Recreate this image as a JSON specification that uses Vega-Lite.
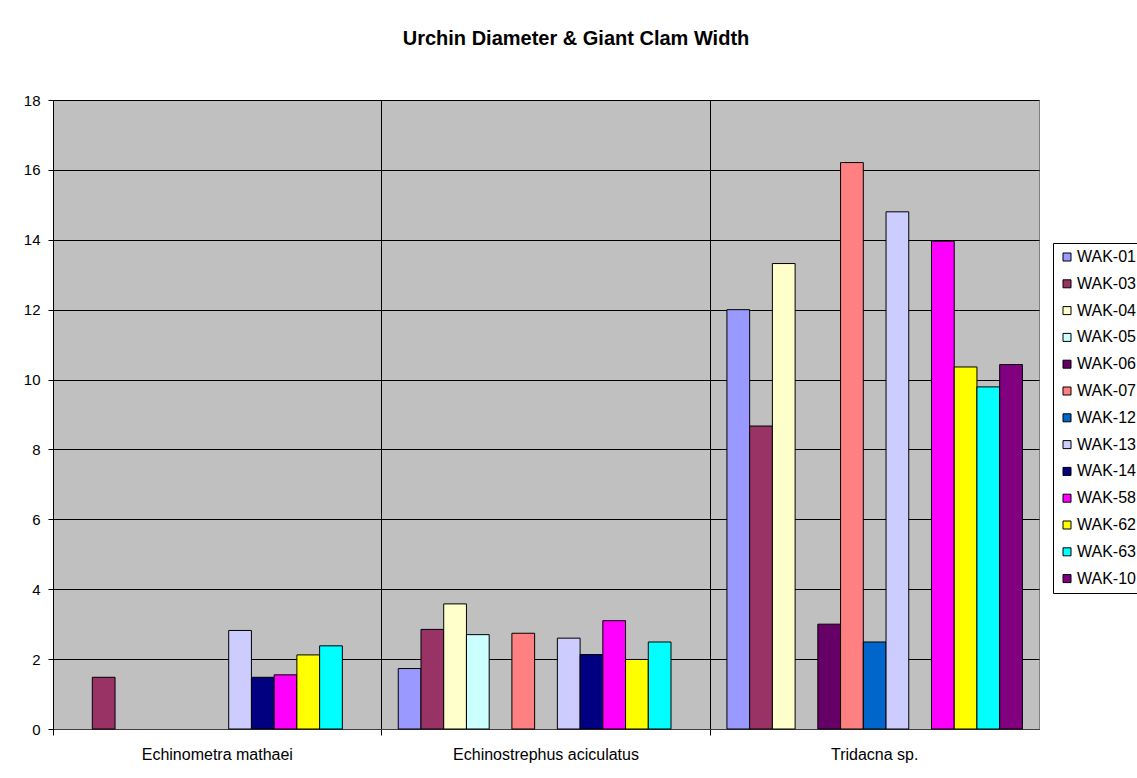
{
  "$schema": "https://vega.github.io/schema/vega-lite/v6.json",
  "autosize": "none",
  "width": 986,
  "height": 629,
  "padding": {"left": 53, "top": 100, "right": 98, "bottom": 49},
  "background": "white",
  "title": {
    "text": "Urchin Diameter & Giant Clam Width",
    "font": "Liberation Sans",
    "fontSize": 20,
    "fontWeight": "bold",
    "color": "black",
    "anchor": "middle",
    "dx": 30,
    "offset": 44
  },
  "data": {
    "values": [
      {"species": "Echinometra mathaei", "sample": "WAK-03", "value": 1.48},
      {"species": "Echinometra mathaei", "sample": "WAK-13", "value": 2.82},
      {"species": "Echinometra mathaei", "sample": "WAK-14", "value": 1.48},
      {"species": "Echinometra mathaei", "sample": "WAK-58", "value": 1.55},
      {"species": "Echinometra mathaei", "sample": "WAK-62", "value": 2.12},
      {"species": "Echinometra mathaei", "sample": "WAK-63", "value": 2.38},
      {"species": "Echinostrephus aciculatus", "sample": "WAK-01", "value": 1.73},
      {"species": "Echinostrephus aciculatus", "sample": "WAK-03", "value": 2.85},
      {"species": "Echinostrephus aciculatus", "sample": "WAK-04", "value": 3.58},
      {"species": "Echinostrephus aciculatus", "sample": "WAK-05", "value": 2.7},
      {"species": "Echinostrephus aciculatus", "sample": "WAK-07", "value": 2.74},
      {"species": "Echinostrephus aciculatus", "sample": "WAK-13", "value": 2.6},
      {"species": "Echinostrephus aciculatus", "sample": "WAK-14", "value": 2.13},
      {"species": "Echinostrephus aciculatus", "sample": "WAK-58", "value": 3.1},
      {"species": "Echinostrephus aciculatus", "sample": "WAK-62", "value": 1.99},
      {"species": "Echinostrephus aciculatus", "sample": "WAK-63", "value": 2.49},
      {"species": "Tridacna sp.", "sample": "WAK-01", "value": 12.0},
      {"species": "Tridacna sp.", "sample": "WAK-03", "value": 8.67},
      {"species": "Tridacna sp.", "sample": "WAK-04", "value": 13.32},
      {"species": "Tridacna sp.", "sample": "WAK-06", "value": 3.0},
      {"species": "Tridacna sp.", "sample": "WAK-07", "value": 16.21},
      {"species": "Tridacna sp.", "sample": "WAK-12", "value": 2.49},
      {"species": "Tridacna sp.", "sample": "WAK-13", "value": 14.8},
      {"species": "Tridacna sp.", "sample": "WAK-58", "value": 13.96},
      {"species": "Tridacna sp.", "sample": "WAK-62", "value": 10.36},
      {"species": "Tridacna sp.", "sample": "WAK-63", "value": 9.79},
      {"species": "Tridacna sp.", "sample": "WAK-10", "value": 10.43}
    ]
  },
  "mark": {"type": "bar", "stroke": "black", "strokeWidth": 1},
  "encoding": {
    "x": {
      "field": "species",
      "type": "nominal",
      "sort": ["Echinometra mathaei", "Echinostrephus aciculatus", "Tridacna sp."],
      "scale": {"paddingInner": 0, "paddingOuter": 0},
      "axis": {
        "title": null,
        "bandPosition": 0,
        "grid": true,
        "gridColor": "black",
        "gridWidth": 1,
        "gridOpacity": 1,
        "ticks": true,
        "tickSize": 6,
        "tickColor": "black",
        "domainColor": "#404040",
        "labelAngle": 0,
        "labelAlign": "center",
        "labelPadding": 11,
        "labelLimit": 400,
        "labelFont": "Liberation Sans",
        "labelFontSize": 16,
        "labelColor": "black"
      }
    },
    "xOffset": {
      "field": "sample",
      "type": "nominal",
      "scale": {
        "domain": ["WAK-01", "WAK-03", "WAK-04", "WAK-05", "WAK-06", "WAK-07", "WAK-12", "WAK-13", "WAK-14", "WAK-58", "WAK-62", "WAK-63", "WAK-10"],
        "paddingInner": 0,
        "paddingOuter": 0.73
      }
    },
    "y": {
      "field": "value",
      "type": "quantitative",
      "scale": {"domain": [0, 18], "nice": false},
      "axis": {
        "title": null,
        "values": [0, 2, 4, 6, 8, 10, 12, 14, 16, 18],
        "grid": true,
        "gridColor": "black",
        "gridWidth": 1,
        "gridOpacity": 1,
        "tickSize": 5,
        "tickColor": "black",
        "domainColor": "black",
        "labelPadding": 8,
        "labelFont": "Liberation Sans",
        "labelFontSize": 15,
        "labelColor": "black"
      }
    },
    "color": {
      "field": "sample",
      "type": "nominal",
      "scale": {
        "domain": ["WAK-01", "WAK-03", "WAK-04", "WAK-05", "WAK-06", "WAK-07", "WAK-12", "WAK-13", "WAK-14", "WAK-58", "WAK-62", "WAK-63", "WAK-10"],
        "range": ["#9999FF", "#993366", "#FFFFCC", "#CCFFFF", "#660066", "#FF8080", "#0066CC", "#CCCCFF", "#000080", "#FF00FF", "#FFFF00", "#00FFFF", "#800080"]
      },
      "legend": {
        "title": null,
        "orient": "none",
        "legendX": 1000,
        "legendY": 143,
        "direction": "vertical",
        "symbolType": "square",
        "symbolSize": 64,
        "symbolStrokeColor": "black",
        "symbolStrokeWidth": 1,
        "symbolOpacity": 1,
        "labelFont": "Liberation Sans",
        "labelFontSize": 16,
        "labelColor": "black",
        "labelOffset": 2,
        "labelLimit": 200,
        "rowPadding": 10.8,
        "padding": 6,
        "strokeColor": "black",
        "fillColor": "white"
      }
    }
  },
  "config": {
    "view": {"fill": "#C0C0C0", "stroke": "#808080", "strokeWidth": 1},
    "font": "Liberation Sans"
  }
}
